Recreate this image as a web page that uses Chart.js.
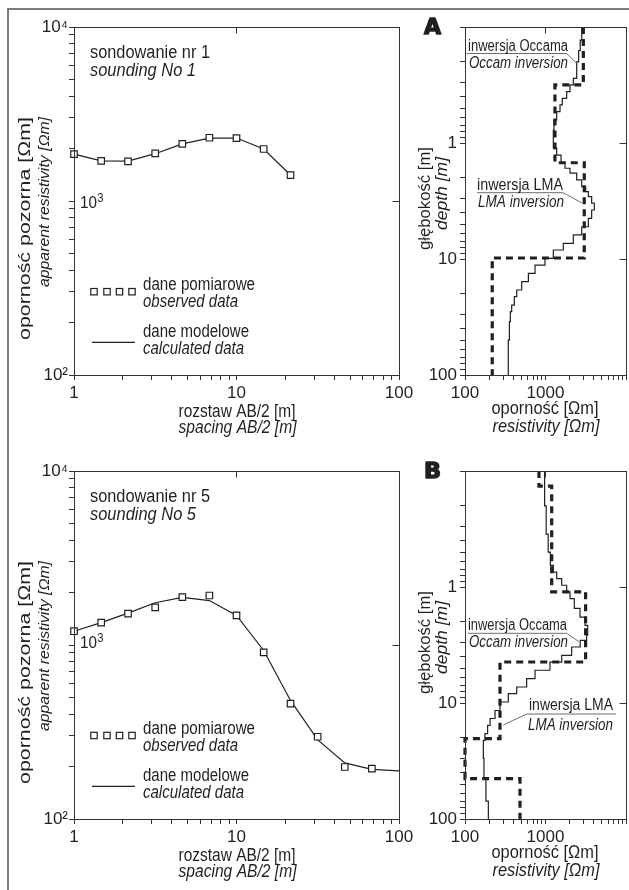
<!DOCTYPE html>
<html><head><meta charset="utf-8">
<script src="https://cdn.jsdelivr.net/npm/chart.js@4/dist/chart.umd.min.js"></script>
<style>
html,body{margin:0;padding:0;background:#fff;}
#wrap{position:relative;width:629px;height:890px;overflow:hidden;background:#fff;}
canvas{position:absolute;}
#frame{position:absolute;left:7px;top:8px;width:700px;height:900px;border-left:2px solid #7a7a7a;border-top:2px solid #7a7a7a;pointer-events:none;}
</style></head><body>
<div id="wrap">
<canvas id="c1" width="415" height="444" style="left:0;top:0;width:415px;height:444px"></canvas>
<canvas id="c2" width="214" height="444" style="left:415px;top:0;width:214px;height:444px"></canvas>
<canvas id="c3" width="415" height="446" style="left:0;top:444px;width:415px;height:446px"></canvas>
<canvas id="c4" width="214" height="446" style="left:415px;top:444px;width:214px;height:446px"></canvas>
<div id="frame"></div>
</div>
<script>
// ---------------- DATA ----------------
// sounding No 1
const spacing1  = [1, 1.47, 2.15, 3.16, 4.64, 6.81, 10, 14.7, 21.5];
const observed1 = [1860, 1700, 1690, 1880, 2130, 2310, 2300, 1990, 1410];
const model1    = [1860, 1700, 1695, 1870, 2130, 2300, 2300, 1990, 1410];
// sounding No 5
const spacing5      = [1, 1.47, 2.15, 3.16, 4.64, 6.81, 10, 14.7, 21.5, 31.6, 46.4, 68.1];
const observed5     = [1200, 1345, 1515, 1645, 1885, 1925, 1480, 908, 460, 297, 199, 195];
const modelSpacing5 = [1, 1.47, 2.15, 3.16, 4.64, 6.81, 10, 14.7, 21.5, 31.6, 46.4, 68.1, 100];
const model5        = [1200, 1345, 1525, 1750, 1880, 1800, 1480, 930, 480, 285, 210, 193, 189];
// panel A inversions (layer boundaries in m, resistivity in ohm-m)
const lmaDepthA = [0.1, 0.316, 1.48, 9.8, 100];
const lmaResA   = [2950, 1310, 3030, 218];
const occDepthA = [0.1, 0.13, 0.16, 0.2, 0.277, 0.316, 0.361, 0.412, 0.47, 0.537, 0.634, 0.773, 1.1, 1.27, 1.5, 1.65, 1.82, 2.08, 2.38, 2.63, 2.9, 3.3, 3.78, 4.46, 5.27, 6.2, 7.33, 8.36, 9.86, 11.3, 13.3, 15.7, 18.5, 21.1, 25, 28.4, 34.7, 50, 100];
const occResA   = [2820, 2700, 2580, 2440, 2216, 2015, 1832, 1617, 1514, 1377, 1276, 1251, 1377, 1560, 1746, 2015, 2440, 2818, 3155, 3404, 3744, 4045, 3744, 3404, 2818, 2216, 1665, 1251, 986, 741, 613, 506, 439, 410, 380, 366, 356, 345];
// panel B inversions
const lmaDepthB = [0.1, 0.135, 1.10, 4.43, 20.3, 44.9, 100];
const lmaResB   = [830, 1194, 3150, 272, 100, 482];
const occDepthB = [0.1, 0.2, 0.35, 0.5, 0.65, 0.743, 0.847, 0.966, 1.10, 1.26, 1.53, 1.82, 2.14, 2.6, 2.88, 3.29, 3.88, 4.44, 5.22, 6.17, 7.28, 8.3, 9.8, 11.6, 13.6, 15.6, 18.4, 21, 30, 45, 70, 100];
const occResB   = [975, 1020, 1080, 1150, 1251, 1377, 1589, 1832, 2015, 2280, 2685, 3100, 3342, 3240, 2700, 2113, 1589, 1137, 741, 583, 439, 345, 272, 236, 205, 191, 177, 169, 172, 182, 195];
// ticks
const spacingTicks = [1,2,3,4,5,6,7,8,9,10,20,30,40,50,60,70,80,90,100];
const spacingLabels = [1, 10, 100];
const rhoTicks = [100,200,300,400,500,600,700,800,900,1000,2000,3000,4000,5000,6000,7000,8000,9000,10000];
const rhoLabels = {10000: '10⁴', 100: '10²'};
const resTicks = [100,200,300,400,500,600,700,800,900,1000,2000,3000,4000,5000,6000,7000,8000,9000,10000];
const resLabels = [100, 1000];
const depthTicks = [0.1,0.2,0.3,0.4,0.5,0.6,0.7,0.8,0.9,1,2,3,4,5,6,7,8,9,10,20,30,40,50,60,70,80,90,100];
const depthLabels = [1, 10, 100];

// ---------------- STYLE ----------------
const FONT = "'Liberation Sans', Arial, sans-serif";
const INK = '#231f20';
const AX = '#333333';
const SX = 0.9;

function txt(ctx, s, x, y, o) {
  o = o || {};
  ctx.save();
  ctx.fillStyle = o.color || INK;
  ctx.font = (o.italic ? 'italic ' : '') + (o.weight || 'normal') + ' ' + (o.size || 18) + 'px ' + (o.family || FONT);
  ctx.textAlign = o.align || 'left';
  ctx.textBaseline = 'alphabetic';
  ctx.translate(x, y);
  const k = o.w ? o.w / ctx.measureText(s).width : (o.sx != null ? o.sx : SX);
  if (o.rot) { ctx.scale(o.hs || SX, k); ctx.rotate(-Math.PI / 2); }
  else ctx.scale(k, 1);
  if (o.stroke) { ctx.strokeStyle = o.color || INK; ctx.lineWidth = o.stroke; ctx.lineJoin = 'round'; ctx.strokeText(s, 0, 0); }
  ctx.fillText(s, 0, 0);
  ctx.restore();
}
const al = p => Math.round(p - 0.5) + 0.5;

function makeDecor(cfg) {
  return {
    id: 'decor',
    afterDraw(chart) {
      const ctx = chart.ctx, a = chart.chartArea, sx = chart.scales.x, sy = chart.scales.y;
      const ox = cfg.ox, oy = cfg.oy;
      ctx.save();
      ctx.strokeStyle = AX; ctx.lineWidth = 1;
      const L = al(a.left), R = al(a.right), T = al(a.top), B = al(a.bottom);
      ctx.strokeRect(L, T, R - L, B - T);
      ctx.beginPath();
      (cfg.topTicks || []).forEach(v => { const x = al(sx.getPixelForValue(v)); ctx.moveTo(x, T); ctx.lineTo(x, T + 6); });
      (cfg.rightTicks || []).forEach(v => { const y = al(sy.getPixelForValue(v)); ctx.moveTo(R, y); ctx.lineTo(R - 7, y); });
      ctx.stroke();
      (cfg.lines || []).forEach(l => {
        ctx.beginPath();
        ctx.strokeStyle = l.color || INK; ctx.lineWidth = l.width || 1;
        l.pts.forEach((p, i) => { const X = p[0] - ox, Y = p[1] - oy; if (i) ctx.lineTo(X, Y); else ctx.moveTo(X, Y); });
        ctx.stroke();
      });
      (cfg.squares || []).forEach(p => {
        ctx.fillStyle = '#fff'; ctx.strokeStyle = INK; ctx.lineWidth = 1.2;
        ctx.fillRect(p[0] - ox - 3.2, p[1] - oy - 3.2, 6.4, 6.4);
        ctx.strokeRect(p[0] - ox - 3.2, p[1] - oy - 3.2, 6.4, 6.4);
      });
      (cfg.texts || []).forEach(t => txt(ctx, t[0], t[1] - ox, t[2] - oy, t[3]));
      ctx.restore();
    }
  };
}

function zeroPad(s) { s.paddingLeft = 0; s.paddingRight = 0; s.paddingTop = 0; s.paddingBottom = 0; }
const gridOpt = {drawOnChartArea: false, drawTicks: true, tickLength: 5, color: AX, tickColor: AX, lineWidth: 1};
const tickFont = {family: FONT, size: 17};

function leftChart(id, h, spacing, observed, mSpacing, model, decor) {
  return new Chart(document.getElementById(id), {
    type: 'scatter',
    data: {datasets: [
      {label: 'dane pomiarowe / observed data', data: spacing.map((x, i) => ({x: x, y: observed[i]})),
       showLine: false, pointStyle: 'rect', pointRadius: 4.6, pointBackgroundColor: '#fff', pointBorderColor: INK, pointBorderWidth: 1.2, order: 0, clip: false},
      {label: 'dane modelowe / calculated data', data: mSpacing.map((x, i) => ({x: x, y: model[i]})),
       showLine: true, borderColor: INK, borderWidth: 1.2, pointRadius: 0, tension: 0, order: 1, clip: false}
    ]},
    options: {
      responsive: false, animation: false, events: [],
      layout: {padding: {left: 0, right: 16, top: 27, bottom: 0}},
      plugins: {legend: {display: false}, tooltip: {enabled: false}},
      scales: {
        x: {type: 'logarithmic', min: 1, max: 100, position: 'bottom',
            afterBuildTicks: s => { s.ticks = spacingTicks.map(v => ({value: v})); },
            ticks: {autoSkip: false, maxRotation: 0, minRotation: 0, padding: 3, color: INK, font: tickFont,
                    callback: v => spacingLabels.includes(v) ? String(v) : ''},
            grid: gridOpt, border: {display: true, color: AX, width: 1},
            afterFit: s => { s.height = h - 375; zeroPad(s); }},
        y: {type: 'logarithmic', min: 100, max: 10000, position: 'left',
            afterBuildTicks: s => { s.ticks = rhoTicks.map(v => ({value: v})); },
            ticks: {autoSkip: false, padding: 1, color: INK, font: tickFont,
                    callback: v => rhoLabels[v] || ''},
            grid: gridOpt, border: {display: true, color: AX, width: 1},
            afterFit: s => { s.width = 74; zeroPad(s); }}
      }
    },
    plugins: [makeDecor(decor)]
  });
}

function stepData(depths, res) {
  const pts = [{x: res[0], y: depths[0]}];
  res.forEach((r, i) => pts.push({x: r, y: depths[i + 1]}));
  return pts;
}

function rightChart(id, h, lmaD, lmaR, occD, occR, decor) {
  return new Chart(document.getElementById(id), {
    type: 'scatter',
    data: {datasets: [
      {label: 'inwersja LMA / LMA inversion', data: stepData(lmaD, lmaR), showLine: true, stepped: 'before',
       borderColor: INK, borderWidth: 3.2, borderDash: [7, 5], pointRadius: 0, clip: false, order: 1},
      {label: 'inwersja Occama / Occam inversion', data: stepData(occD, occR), showLine: true, stepped: 'before',
       borderColor: INK, borderWidth: 1.2, pointRadius: 0, clip: false, order: 0}
    ]},
    options: {
      responsive: false, animation: false, events: [],
      layout: {padding: {left: 0, right: 3, top: 27, bottom: 0}},
      plugins: {legend: {display: false}, tooltip: {enabled: false}},
      scales: {
        x: {type: 'logarithmic', min: 100, max: 10000, position: 'bottom',
            afterBuildTicks: s => { s.ticks = resTicks.map(v => ({value: v})); },
            ticks: {autoSkip: false, maxRotation: 0, minRotation: 0, padding: 3, color: INK, font: tickFont,
                    callback: v => resLabels.includes(v) ? String(v) : ''},
            grid: gridOpt, border: {display: true, color: AX, width: 1},
            afterFit: s => { s.height = h - 375; zeroPad(s); }},
        y: {type: 'logarithmic', min: 0.1, max: 100, reverse: true, position: 'left',
            afterBuildTicks: s => { s.ticks = depthTicks.map(v => ({value: v})); },
            ticks: {autoSkip: false, padding: 3, color: INK, font: tickFont,
                    callback: v => depthLabels.includes(v) ? String(v) : ''},
            grid: gridOpt, border: {display: true, color: AX, width: 1},
            afterFit: s => { s.width = 50; zeroPad(s); }}
      }
    },
    plugins: [makeDecor(decor)]
  });
}

function leftTexts(dy, no, sup) {
  return [
    ['sondowanie nr ' + no, 90, 57.5 + dy, {size: 18, w: 120}],
    ['sounding No ' + no, 90, 76 + dy, {size: 18, italic: true, w: 106}],
    ['rozstaw AB/2 [m]', 237, 417 + dy, {size: 17.5, align: 'center', w: 117}],
    ['spacing AB/2 [m]', 237.5, 433 + dy, {size: 17.5, align: 'center', italic: true, w: 118}],
    ['oporność pozorna [Ωm]', 30, 117 + dy, {size: 20, hs: 0.82, align: 'right', rot: true, w: 223}],
    ['apparent resistivity [Ωm]', 48.5, 117 + dy, {size: 17, hs: 0.9, align: 'right', rot: true, italic: true, w: 170}],
    ['dane pomiarowe', 143, 290 + dy, {size: 17.5, w: 112}],
    ['observed data', 143, 307 + dy, {size: 17.5, italic: true, w: 95}],
    ['dane modelowe', 143, 336.5 + dy, {size: 17.5, w: 106}],
    ['calculated data', 143, 354 + dy, {size: 17.5, italic: true, w: 101}],
    ['10', 80, sup[0], {size: 17}],
    ['3', 97.5, sup[1], {size: 12}]
  ];
}

leftChart('c1', 444, spacing1, observed1, spacing1, model1, {
  ox: 0, oy: 0, topTicks: [10], rightTicks: [1000],
  squares: [[94, 291.7], [107, 291.7], [119.5, 291.7], [132, 291.7]],
  lines: [{pts: [[92, 342.3], [135, 342.3]], width: 1.2}],
  texts: leftTexts(0, 1, [208.3, 201.5])
});
leftChart('c3', 446, spacing5, observed5, modelSpacing5, model5, {
  ox: 0, oy: 444, topTicks: [10], rightTicks: [1000],
  squares: [[94, 735.5], [107, 735.5], [119.5, 735.5], [132, 735.5]],
  lines: [{pts: [[92, 786.3], [135, 786.3]], width: 1.2}],
  texts: leftTexts(444, 5, [648.3, 641.5])
});

function rightTexts(dy, letter) {
  return [
    [letter, 424, 33.5 + dy, {size: 21, weight: 'bold', family: "'DejaVu Sans', sans-serif", w: 17, stroke: 1.4}],
    ['oporność [Ωm]', 545, 414 + dy, {size: 17.5, align: 'center', w: 107}],
    ['resistivity [Ωm]', 546, 432 + dy, {size: 17.5, align: 'center', italic: true, w: 107}],
    ['głębokość [m]', 429.5, 198.5 + dy, {size: 18, align: 'center', rot: true, w: 103}],
    ['depth [m]', 446.5, 193.5 + dy, {size: 18, align: 'center', rot: true, italic: true, w: 73}]
  ];
}
const GR = '#6d6d6d';
rightChart('c2', 444, lmaDepthA, lmaResA, occDepthA, occResA, {
  ox: 415, oy: 0, topTicks: [1000], rightTicks: [1, 10],
  lines: [
    {pts: [[466.7, 53.5], [566.7, 53.5], [576.7, 63.3]], color: GR},
    {pts: [[477, 192.7], [563, 192.7], [582.7, 203.3]], color: GR}
  ],
  texts: rightTexts(0, 'A').concat([
    ['inwersja Occama', 468, 50.5, {size: 16, w: 100}],
    ['Occam inversion', 469, 67.5, {size: 16, italic: true, w: 99}],
    ['inwersja LMA', 477, 189.5, {size: 16, w: 86}],
    ['LMA inversion', 478, 206.5, {size: 16, italic: true, w: 86}]
  ])
});
rightChart('c4', 446, lmaDepthB, lmaResB, occDepthB, occResB, {
  ox: 415, oy: 444, topTicks: [1000], rightTicks: [1, 10],
  lines: [
    {pts: [[468, 633.3], [566.7, 633.3], [579, 641.7]], color: GR},
    {pts: [[616, 714], [526.7, 714], [503.3, 725]], color: GR}
  ],
  texts: rightTexts(444, 'B').concat([
    ['inwersja Occama', 468, 630, {size: 16, w: 99}],
    ['Occam inversion', 469, 646.5, {size: 16, italic: true, w: 99}],
    ['inwersja LMA', 529, 710, {size: 16, w: 84}],
    ['LMA inversion', 528, 730, {size: 16, italic: true, w: 85}]
  ])
});
</script>
</body></html>
